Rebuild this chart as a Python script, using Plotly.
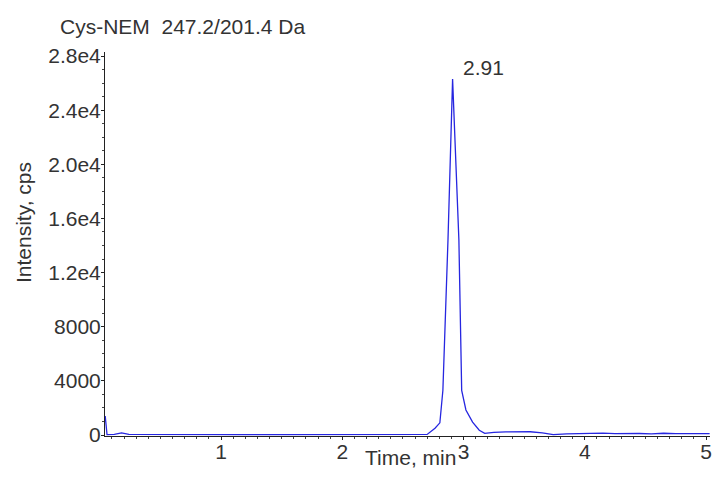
import plotly.graph_objects as go

# ---- data ----
time_min = [0.045, 0.06, 0.12, 0.18, 0.24, 0.4, 0.6, 0.8, 1.0, 1.2, 1.4, 1.6, 1.8, 2.0,
            2.2, 2.4, 2.6, 2.70, 2.765, 2.805, 2.83, 2.872, 2.91, 2.962, 2.985,
            3.02, 3.075, 3.13, 3.175, 3.25, 3.35, 3.45, 3.55, 3.65, 3.74, 3.85,
            3.95, 4.05, 4.15, 4.25, 4.35, 4.45, 4.55, 4.65, 4.75, 4.85, 4.95, 5.03]
intensity = [1400, 30, 40, 150, 40, 30, 30, 30, 30, 30, 30, 30, 30, 30,
             30, 30, 30, 40, 500, 900, 3300, 14400, 26300, 14400, 3300,
             1850, 950, 350, 120, 200, 230, 250, 240, 150, 30, 90,
             110, 120, 140, 100, 130, 110, 90, 130, 100, 110, 120, 100]

y_tick_vals = [0, 4000, 8000, 12000, 16000, 20000, 24000, 28000]
y_tick_text = ["0", "4000", "8000", "1.2e4", "1.6e4", "2.0e4", "2.4e4", "2.8e4"]
x_tick_vals = [1, 2, 3, 4, 5]
x_tick_text = ["1", "2", "3", "4", "5"]

title_text = "Cys-NEM&nbsp;&nbsp;247.2/201.4 Da"
peak_time = 2.91
peak_height = 26300

FONT = "Liberation Sans, Arial, sans-serif"
TXT = "#333333"
FS = 21

fig = go.Figure()
fig.add_trace(go.Scatter(
    x=time_min, y=intensity, mode="lines",
    line=dict(color="#2626e0", width=1.3),
    hoverinfo="skip", showlegend=False,
))

fig.update_layout(
    width=714, height=479,
    margin=dict(l=105, r=4, t=52, b=43),
    paper_bgcolor="white", plot_bgcolor="white",
    font=dict(family=FONT, size=FS, color=TXT),
    xaxis=dict(
        range=[0.0433, 5.033], showgrid=False, zeroline=False, automargin=False,
        showline=True, linecolor="#222", linewidth=1, layer="below traces",
        tickvals=x_tick_vals, ticktext=x_tick_text, ticklabeloverflow="allow",
        ticks="outside", ticklen=3, tickcolor="#222",
        minor=dict(dtick=0.1, tick0=0, ticks="outside", ticklen=2, tickcolor="#444"),
        tickfont=dict(family=FONT, size=FS, color=TXT),
        ticklabelstandoff=-6,
    ),
    yaxis=dict(
        range=[-74, 28296], showgrid=False, zeroline=False, automargin=False,
        showline=True, linecolor="#222", linewidth=1, layer="below traces",
        tickvals=y_tick_vals, ticktext=y_tick_text,
        ticks="outside", ticklen=3, tickcolor="#222",
        minor=dict(dtick=1000, tick0=0, ticks="outside", ticklen=2, tickcolor="#444"),
        tickfont=dict(family=FONT, size=FS, color=TXT),
        ticklabelstandoff=-4,
    ),
    annotations=[
        dict(text=title_text, xref="paper", yref="paper",
             x=(58 - 105) / 605, y=(436 - 27) / 384,
             xanchor="left", yanchor="middle", showarrow=False,
             font=dict(family=FONT, size=FS, color=TXT)),
        dict(text="Intensity, cps", xref="paper", yref="paper",
             x=(23 - 105) / 605, y=(436 - 223) / 384, textangle=-90,
             xanchor="center", yanchor="middle", showarrow=False,
             font=dict(family=FONT, size=FS, color=TXT)),
        dict(text="Time, min", xref="paper", yref="paper",
             x=(410 - 105) / 605, y=(436 - 457) / 384,
             xanchor="center", yanchor="middle", showarrow=False,
             font=dict(family=FONT, size=FS, color=TXT)),
        dict(text=f"{peak_time:.2f}", xref="x", yref="y",
             x=peak_time, y=peak_height,
             xanchor="left", yanchor="middle", xshift=8, yshift=12,
             showarrow=False, font=dict(family=FONT, size=FS, color=TXT)),
    ],
)

fig.write_html("out.html", config={"displayModeBar": False},
               post_script="document.body.style.margin='0px';document.documentElement.style.overflow='hidden';")
